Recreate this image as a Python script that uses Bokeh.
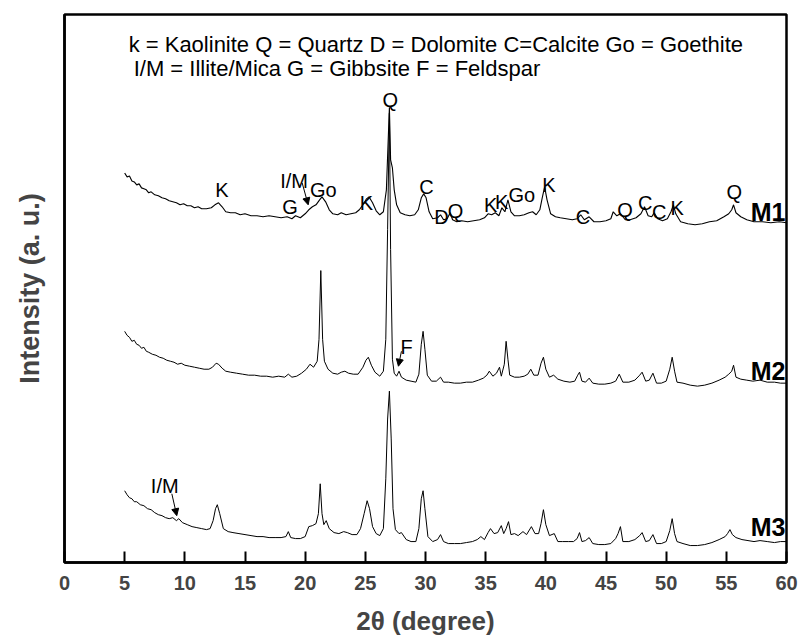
from bokeh.plotting import figure
from bokeh.models import ColumnDataSource, Arrow, NormalHead, Range1d, FixedTicker
from bokeh.core.properties import value
from bokeh.embed import file_html
from bokeh.resources import INLINE

FONT = "Liberation Sans"

# ---- data: 2theta (degree) and intensity (a. u., stacked with offsets as in the figure) ----
m1_x = [5.0, 5.2, 5.4, 5.6, 5.8, 6.0, 6.2, 6.4, 6.6, 6.8, 7.0, 7.2, 7.5, 7.8, 8.1, 8.4, 8.7, 9.0, 9.3, 9.6,
        9.9, 10.2, 10.5, 10.8, 11.1, 11.4, 11.8, 12.2, 12.5, 12.8, 13.1, 13.4, 13.8, 14.2, 14.6, 15.0, 15.5,
        16.0, 16.5, 17.0, 17.5, 18.0, 18.5, 18.9, 19.2, 19.6, 20.0, 20.3, 20.6, 20.9, 21.2, 21.4, 21.7, 22.0,
        22.3, 22.7, 23.0, 23.4, 23.8, 24.2, 24.5, 24.8, 25.1, 25.3, 25.6, 25.9, 26.2, 26.5, 26.75, 26.9, 27.0,
        27.1, 27.25, 27.4, 27.6, 27.9, 28.3, 28.7, 29.1, 29.4, 29.65, 29.85, 30.05, 30.3, 30.6, 31.0, 31.25,
        31.5, 31.8, 32.05, 32.25, 32.6, 33.0, 33.5, 34.0, 34.5, 34.9, 35.2, 35.5, 35.8, 36.1, 36.35, 36.6,
        36.85, 37.1, 37.4, 37.8, 38.2, 38.6, 38.9, 39.2, 39.5, 39.7, 39.9, 40.1, 40.4, 40.8, 41.2, 41.7, 42.2,
        42.6, 42.9, 43.2, 43.6, 44.0, 44.5, 45.0, 45.4, 45.6, 45.9, 46.2, 46.6, 47.0, 47.5, 47.9, 48.2, 48.5,
        48.8, 49.0, 49.3, 49.7, 50.1, 50.4, 50.6, 50.8, 51.2, 51.8, 52.4, 53.0, 53.6, 54.2, 54.8, 55.2, 55.45,
        55.6, 55.8, 56.2, 56.7, 57.3, 58.0, 58.7, 59.4, 60.0]
m1_y = [391, 387, 388, 383, 382, 379, 380, 376, 375, 374, 371, 372, 369, 368, 366, 365, 363, 362, 361, 359,
        360, 358, 358, 356, 357, 355, 355, 356, 359, 361, 357, 352, 351, 351, 349, 350, 348,
        348, 347, 348, 347, 346, 347, 345, 348, 346, 350, 354, 357, 359, 364, 367, 362, 354,
        350, 349, 351, 349, 350, 351, 354, 359, 365, 367, 361, 353, 349, 352, 374, 424, 457,
        404, 396, 374, 359, 351, 349, 348, 349, 354, 366, 370, 366, 352, 345, 346, 349,
        344, 345, 351, 344, 342, 343, 342, 343, 344, 346, 350, 349, 351, 348, 356, 352,
        364, 352, 348, 348, 349, 351, 352, 349, 354, 366, 377, 364, 350, 347, 346, 345, 344,
        345, 349, 344, 347, 342, 342, 343, 345, 352, 348, 350, 344, 344, 346, 350, 357, 348,
        347, 351, 345, 343, 345, 352, 359, 350, 342, 340, 339, 340, 342, 343, 347, 350, 354,
        359, 351, 347, 344, 342, 342, 341, 342, 341]

m2_x = [5.0, 5.2, 5.4, 5.6, 5.8, 6.0, 6.2, 6.4, 6.6, 6.8, 7.0, 7.3, 7.6, 7.9, 8.2, 8.5, 8.8, 9.1, 9.4, 9.7,
        10.0, 10.4, 10.8, 11.2, 11.6, 12.0, 12.3, 12.6, 12.8, 13.1, 13.4, 13.8, 14.3, 14.8, 15.3, 15.8, 16.3,
        16.8, 17.3, 17.8, 18.3, 18.6, 18.9, 19.3, 19.7, 20.1, 20.4, 20.7, 21.0, 21.15, 21.3, 21.45, 21.6, 21.9,
        22.3, 22.7, 23.0, 23.3, 23.6, 24.0, 24.4, 24.8, 25.05, 25.25, 25.5, 25.8, 26.2, 26.5, 26.7, 26.85, 27.0,
        27.1, 27.25, 27.4, 27.6, 27.8, 28.0, 28.4, 28.8, 29.2, 29.45, 29.65, 29.8, 29.95, 30.15, 30.5, 30.9,
        31.25, 31.5, 31.9, 32.4, 32.9, 33.4, 33.9, 34.4, 34.8, 35.1, 35.3, 35.6, 35.9, 36.15, 36.3, 36.55,
        36.7, 36.85, 37.0, 37.4, 37.8, 38.2, 38.5, 38.75, 39.0, 39.35, 39.6, 39.8, 40.0, 40.3, 40.65, 41.0,
        41.5, 42.0, 42.4, 42.65, 42.8, 43.0, 43.3, 43.6, 43.9, 44.4, 44.9, 45.4, 45.8, 46.1, 46.4, 46.9, 47.4,
        47.8, 48.0, 48.3, 48.6, 48.9, 49.2, 49.6, 50.0, 50.3, 50.5, 50.7, 50.9, 51.4, 52.0, 52.6, 53.2, 53.8,
        54.4, 54.9, 55.2, 55.45, 55.6, 55.8, 56.2, 56.7, 57.2, 57.8, 58.4, 59.0, 59.5, 60.0]
m2_y = [232, 228, 226, 222, 223, 219, 218, 215, 216, 212, 211, 209, 208, 206, 205, 203, 202, 201, 199, 200,
        198, 197, 196, 195, 194, 194, 196, 200, 199, 195, 192, 191, 190, 189, 188, 188, 187,
        187, 186, 187, 186, 189, 186, 187, 190, 194, 199, 196, 202, 224, 293, 224, 202, 194,
        190, 189, 191, 192, 190, 189, 189, 196, 203, 206, 198, 191, 187, 192, 224, 334, 451,
        314, 204, 190, 187, 192, 186, 183, 182, 181, 189, 219, 232, 214, 188, 182, 182,
        186, 181, 181, 180, 180, 181, 181, 183, 185, 188, 192, 187, 190, 196, 187, 199,
        222, 204, 188, 186, 186, 187, 189, 194, 188, 188, 200, 206, 194, 186, 188, 184,
        182, 181, 182, 188, 191, 182, 181, 185, 180, 179, 179, 180, 182, 189, 181, 181, 183,
        188, 191, 182, 183, 190, 180, 180, 182, 194, 206, 192, 181, 180, 178, 177, 178, 180,
        183, 186, 189, 192, 198, 186, 184, 183, 182, 183, 181, 181, 180, 180]

m3_x = [5.0, 5.2, 5.4, 5.6, 5.8, 6.0, 6.3, 6.6, 6.9, 7.2, 7.5, 7.8, 8.1, 8.4, 8.7, 9.0, 9.3, 9.5, 9.8, 10.2,
        10.6, 11.0, 11.4, 11.8, 12.1, 12.35, 12.55, 12.7, 12.9, 13.2, 13.6, 14.0, 14.5, 15.0, 15.5, 16.0, 16.5,
        17.0, 17.5, 18.0, 18.4, 18.6, 18.8, 19.2, 19.6, 20.0, 20.3, 20.6, 20.9, 21.1, 21.25, 21.4, 21.55, 21.75,
        22.0, 22.4, 22.8, 23.2, 23.5, 23.9, 24.3, 24.6, 24.9, 25.15, 25.35, 25.6, 25.9, 26.2, 26.5, 26.7, 26.85,
        27.0, 27.15, 27.3, 27.5, 27.8, 28.0, 28.4, 28.8, 29.2, 29.45, 29.65, 29.8, 29.95, 30.2, 30.6, 31.0,
        31.25, 31.5, 31.9, 32.4, 32.9, 33.4, 33.9, 34.3, 34.6, 34.9, 35.2, 35.4, 35.7, 36.0, 36.3, 36.5, 36.7,
        36.9, 37.1, 37.4, 37.7, 38.1, 38.4, 38.8, 39.1, 39.4, 39.6, 39.8, 40.0, 40.3, 40.7, 41.0, 41.4, 41.9,
        42.3, 42.6, 42.8, 43.0, 43.3, 43.6, 43.9, 44.4, 44.9, 45.4, 45.8, 46.0, 46.2, 46.4, 46.9, 47.4, 47.8,
        48.0, 48.3, 48.6, 48.9, 49.2, 49.6, 50.0, 50.3, 50.5, 50.7, 50.9, 51.4, 52.0, 52.6, 53.2, 53.8, 54.4,
        54.9, 55.1, 55.3, 55.5, 55.8, 56.3, 56.8, 57.3, 57.8, 58.4, 59.0, 59.5, 60.0]
m3_y = [72, 68, 65, 64, 61, 61, 58, 57, 54, 53, 50, 48, 47, 45, 44, 45, 42, 44, 40, 38,
        36, 35, 34, 33, 34, 42, 54, 58, 49, 34, 31, 30, 29, 28, 27, 26, 26,
        25, 25, 25, 26, 31, 25, 24, 24, 26, 36, 37, 39, 49, 79, 49, 38, 42,
        34, 30, 29, 31, 30, 28, 28, 34, 49, 62, 54, 36, 29, 27, 34, 84, 144,
        172, 124, 54, 33, 29, 30, 23, 21, 21, 34, 64, 72, 54, 26, 21, 23,
        28, 21, 19, 19, 19, 20, 21, 23, 26, 23, 30, 34, 29, 30, 37, 29, 34,
        41, 28, 29, 27, 31, 28, 36, 29, 29, 39, 53, 38, 27, 29, 21, 21, 21,
        21, 24, 30, 21, 22, 25, 19, 18, 18, 19, 24, 29, 36, 21, 21, 23, 27,
        30, 21, 22, 28, 19, 19, 21, 32, 44, 29, 21, 19, 17, 17, 18, 20, 23,
        26, 29, 33, 28, 25, 23, 22, 21, 22, 21, 20, 21, 21]

sample_names = ["M1", "M2", "M3"]

peak_text = ["K", "I/M", "G", "Go", "K", "Q", "C", "D", "Q", "K", "K", "Go", "K", "C", "Q", "C", "C", "K", "Q",
             "F", "I/M"]

legend_lines = ["k = Kaolinite Q = Quartz D = Dolomite C=Calcite Go = Goethite",
                "I/M = Illite/Mica G = Gibbsite F = Feldspar"]

x_ticks = [0, 5, 10, 15, 20, 25, 30, 35, 40, 45, 50, 55, 60]

# ---- figure ----
p = figure(width=798, height=638, x_range=Range1d(0, 60), y_range=Range1d(0, 550),
           output_backend="svg", toolbar_location=None,
           min_border_left=64, min_border_right=12, min_border_top=14, min_border_bottom=74)
p.background_fill_color = "white"
p.border_fill_color = "white"
p.grid.visible = False
p.outline_line_color = "black"
p.outline_line_width = 2.5

xa = p.xaxis[0]
xa.ticker = FixedTicker(ticks=x_ticks)
xa.minor_tick_line_color = None
xa.major_tick_in = 11
xa.major_tick_out = 0
xa.major_tick_line_width = 2
xa.axis_line_width = 2.5
xa.major_label_text_font = FONT
xa.major_label_text_font_style = "bold"
xa.major_label_text_font_size = "20px"
xa.major_label_standoff = 13
xa.axis_label = "2θ (degree)"
xa.axis_label_text_font = FONT
xa.axis_label_text_font_style = "bold"
xa.axis_label_text_font_size = "26px"
xa.axis_label_standoff = 13

ya = p.yaxis[0]
ya.ticker = FixedTicker(ticks=[])
ya.minor_tick_line_color = None
ya.major_tick_in = 0
ya.major_tick_out = 0
ya.major_label_text_font_size = "0px"
ya.major_label_standoff = 0
ya.axis_line_width = 2.5
ya.axis_label = "Intensity (a. u.)"
ya.axis_label_text_font = FONT
ya.axis_label_text_font_style = "bold"
ya.axis_label_text_font_size = "27px"
ya.axis_label_standoff = 20

for xs, ys, w in [(m1_x, m1_y, 1.1), (m2_x, m2_y, 1.0), (m3_x, m3_y, 1.0)]:
    p.line(xs, ys, line_color="black", line_width=w)

# peak labels (2theta position, baseline height)
lab_x = [13.08, 19.08, 18.75, 21.5, 25.08, 27.08, 30.08, 31.33, 32.5, 35.42, 36.33, 38.0, 40.25, 43.08, 46.58,
         48.25, 49.42, 50.92, 55.67, 28.42, 8.33]
lab_y = [374, 383, 357, 374, 361, 464, 377, 347, 353, 359, 362, 369, 379, 347, 354, 361, 352, 356, 372, 216, 77]
p.text(x=lab_x, y=lab_y, text=peak_text, text_font=value(FONT), text_font_size="20px",
       text_align="center", text_baseline="alphabetic", text_color="black")

# sample names
p.text(x=[60, 60, 60], y=[352, 192, 36], text=sample_names, text_font=value(FONT),
       text_font_size="25px", text_font_style="bold", text_align="right", x_offset=-1,
       text_baseline="alphabetic", text_color="black")

# legend text
p.text(x=[5.33, 5.75], y=[520, 496], text=legend_lines, text_font=value(FONT), text_font_size="22px",
       text_align="left", text_baseline="alphabetic", text_color="black")

# arrows
for xs, ys, xe, ye in [(19.75, 381, 20.25, 359), (28.0, 212, 27.75, 197), (8.92, 69, 9.33, 47)]:
    p.add_layout(Arrow(end=NormalHead(size=7, fill_color="black", line_color="black"),
                       x_start=xs, y_start=ys, x_end=xe, y_end=ye, line_color="black", line_width=1))

open("out.html", "w").write(file_html(p, INLINE))
